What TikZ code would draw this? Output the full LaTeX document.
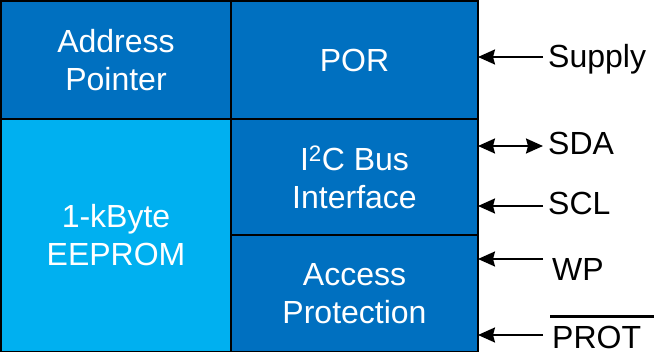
\documentclass[tikz,border=0pt]{standalone}
\usepackage{fontspec}
\setmainfont{Liberation Sans}
\usetikzlibrary{positioning,arrows.meta}
\definecolor{chipblue}{HTML}{0070C0}
\definecolor{memblue}{HTML}{00B0F0}

\begin{document}
\begin{tikzpicture}[x=1pt, y=-1pt, node distance=0pt,
  block/.style={draw, line width=1.5pt, fill=chipblue, text=white, align=center,
    inner sep=0pt, outer sep=0pt, font=\fontsize{32}{38}\selectfont},
  pin/.style={font=\fontsize{32}{38}\selectfont, inner sep=0pt, anchor=base west},
  sig/.style={line width=2pt, -{Stealth[length=17pt,width=15pt,inset=2pt]}}]
  \useasboundingbox (0,0) rectangle (654,352);

  \node (addr) [block, anchor=north west, minimum width=230pt, minimum height=118pt] at (1,1) {Address\\Pointer};
  \node (eeprom) [block, fill=memblue, below=of addr, minimum width=230pt, minimum height=233pt] {1-kByte\\EEPROM};
  \node (por) [block, right=of addr, minimum width=247pt, minimum height=118pt] {POR};
  \node (bus) [block, below=of por, minimum width=247pt, minimum height=116pt] {I\textsuperscript{2}C Bus\\Interface};
  \node (access) [block, below=of bus, minimum width=247pt, minimum height=117pt] {Access\\Protection};

  \node (supply) [pin] at (548,68) {Supply};
  \node (sda) [pin] at (548,155) {SDA};
  \node (scl) [pin] at (548,215) {SCL};
  \node (wp) [pin] at (552,281) {WP};
  \node (prot) [pin] at (552,349) {PROT};
  \draw[line width=3pt] ([shift={(-2,-10)}]prot.north west) -- ([shift={(14,-10)}]prot.north east);

  % signal lines into the chip
  \coordinate (supplyend) at (543,57);
  \coordinate (sdaend) at (543,146);
  \coordinate (sclend) at (543,206);
  \coordinate (wpend) at (543,259);
  \coordinate (protend) at (543,335);

  \draw[sig] (supplyend) -- (por.east |- supplyend);
  \draw[sig, {Stealth[length=17pt,width=15pt,inset=2pt]}-{Stealth[length=17pt,width=15pt,inset=2pt]}] (bus.east |- sdaend) -- (sdaend);
  \draw[sig] (sclend) -- (bus.east |- sclend);
  \draw[sig] (wpend) -- (access.east |- wpend);
  \draw[sig] (protend) -- (access.east |- protend);
\end{tikzpicture}
\end{document}
